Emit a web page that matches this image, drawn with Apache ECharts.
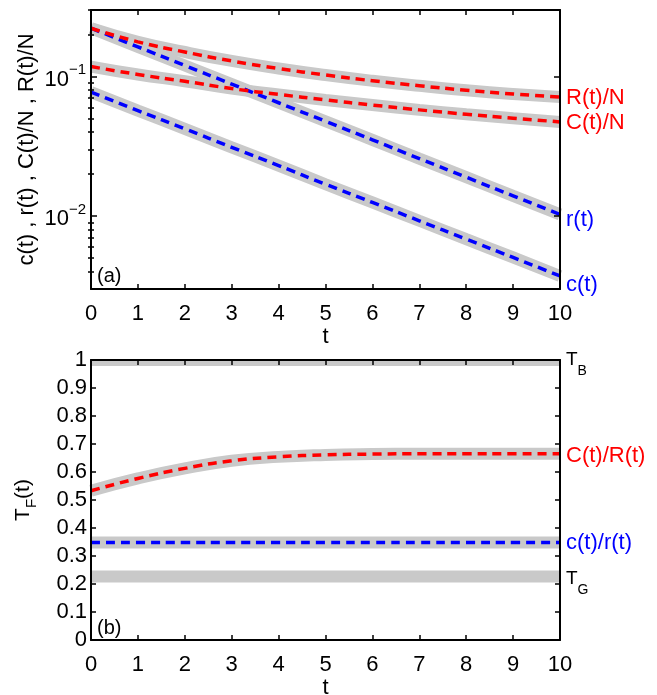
<!DOCTYPE html>
<html>
<head>
<meta charset="utf-8">
<script src="https://cdn.jsdelivr.net/npm/echarts@6/dist/echarts.min.js"></script>
<style>html,body{margin:0;padding:0;background:#fff}#c{width:657px;height:695px}</style>
</head>
<body>
<div id="c"></div>
<script>
// ---- data ----
const tVals = [0, 1, 2, 3, 4, 5, 6, 7, 8, 9, 10];
const R_N = [0.222, 0.1774, 0.150, 0.1294, 0.1143, 0.1026, 0.0933, 0.0859, 0.0798, 0.0750, 0.0713];
const C_N = [0.118, 0.1035, 0.0925, 0.0820, 0.0745, 0.0680, 0.0625, 0.0577, 0.0537, 0.0503, 0.0473];
const r_t = [0.222, 0.1633, 0.120, 0.0883, 0.0649, 0.0478, 0.0352, 0.0258, 0.0190, 0.01396, 0.01028];
const c_t = [0.0773, 0.0570, 0.0422, 0.0311, 0.0230, 0.0169, 0.01253, 0.00925, 0.00683, 0.00505, 0.00372];
const C_R = [0.533, 0.577, 0.613, 0.640, 0.654, 0.661, 0.664, 0.665, 0.665, 0.665, 0.665];
const c_r = [0.348, 0.348, 0.348, 0.348, 0.348, 0.348, 0.348, 0.348, 0.348, 0.348, 0.348];
const T_B = [1, 1, 1, 1, 1, 1, 1, 1, 1, 1, 1];
const T_G = [0.227, 0.227, 0.227, 0.227, 0.227, 0.227, 0.227, 0.227, 0.227, 0.227, 0.227];
const logMajor = [0.01, 0.1];
const logMinor = [0.004, 0.005, 0.006, 0.007, 0.008, 0.009, 0.02, 0.03, 0.04, 0.05, 0.06, 0.07, 0.08, 0.09, 0.2, 0.3];

const FONT = 'Liberation Sans, Arial, Helvetica, sans-serif';
const GRAY = '#c9c9c9', RED = '#ff0000', BLUE = '#0000ff';
const pairs = arr => tVals.map((x, i) => [x, arr[i]]);

const axLine = { show: true, onZero: false, lineStyle: { color: '#000', width: 2 } };
const tickIn = (len) => ({ show: true, inside: true, length: len, lineStyle: { color: '#000', width: 1.5 } });
const AXZ = 10;

function xAxes(gridIndex, nameGap) {
  return [
    { type: 'value', gridIndex, position: 'bottom', min: 0, max: 10, interval: 1, z: AXZ,
      axisLine: axLine, axisTick: tickIn(5), splitLine: { show: false },
      axisLabel: { color: '#000', fontSize: 22, fontFamily: FONT, margin: 14 },
      name: 't', nameLocation: 'middle', nameGap,
      nameTextStyle: { color: '#000', fontSize: 22, fontFamily: FONT } },
    { type: 'value', gridIndex, position: 'top', min: 0, max: 10, interval: 1, z: AXZ,
      axisLine: axLine, axisTick: tickIn(5), axisLabel: { show: false }, splitLine: { show: false } }
  ];
}

function band(name, arr, xi, yi, extra) {
  return Object.assign({ name: name + ' band', type: 'line', xAxisIndex: xi, yAxisIndex: yi,
    data: pairs(arr), symbol: 'none', smooth: true, z: 2,
    lineStyle: { color: GRAY, width: 12, cap: 'butt' }, silent: true }, extra || {});
}
function dashed(name, arr, color, xi, yi, label, dy) {
  return { name, type: 'line', xAxisIndex: xi, yAxisIndex: yi, data: pairs(arr),
    symbol: 'none', smooth: true, z: 3,
    lineStyle: { color, width: 3.5, type: [9, 6] },
    endLabel: { show: true, formatter: label, color, fontSize: 22, fontFamily: FONT,
      distance: 6, offset: [0, dy || 0] } };
}
const subRich = {
  t: { fontSize: 19, fontFamily: FONT, color: '#000', lineHeight: 20, verticalAlign: 'top' },
  s: { fontSize: 14, fontFamily: FONT, color: '#000', lineHeight: 16, verticalAlign: 'top', padding: [14, 0, 0, 0] }
};

const chart = echarts.init(document.getElementById('c'), null, { renderer: 'canvas' });
chart.setOption({
  animation: false,
  backgroundColor: '#fff',
  grid: [
    { left: 91, width: 469, top: 10, height: 279, containLabel: false, outerBoundsMode: 'none' },
    { left: 91, width: 469, top: 360, height: 280, containLabel: false, outerBoundsMode: 'none' }
  ],
  xAxis: [...xAxes(0, 32), ...xAxes(1, 35)],
  yAxis: [
    { type: 'log', gridIndex: 0, position: 'left', min: 0.003, max: 0.3, z: AXZ,
      axisLine: axLine, splitLine: { show: false },
      axisTick: Object.assign(tickIn(6), { customValues: logMajor }),
      axisLabel: { customValues: logMajor, color: '#000', margin: 5, fontFamily: FONT,
        formatter: v => '{b|10}{s|' + String(Math.round(Math.log10(v))).replace('-', '\u2212') + '}',
        rich: { b: { fontSize: 22, fontFamily: FONT, lineHeight: 28, verticalAlign: 'bottom', color: '#000' },
                s: { fontSize: 15, fontFamily: FONT, lineHeight: 16, verticalAlign: 'top', color: '#000' } } },
      name: 'c(t) , r(t) , C(t)/N , R(t)/N', nameLocation: 'middle', nameRotate: 90, nameGap: 53,
      nameMoveOverlap: false,
      nameTextStyle: { color: '#000', fontSize: 22, fontFamily: FONT } },
    { type: 'log', gridIndex: 0, position: 'left', min: 0.003, max: 0.3, z: AXZ,
      axisLine: { show: false }, splitLine: { show: false }, axisLabel: { show: false },
      axisTick: Object.assign(tickIn(3), { customValues: logMinor }) },
    { type: 'log', gridIndex: 0, position: 'right', min: 0.003, max: 0.3, z: AXZ,
      axisLine: axLine, splitLine: { show: false }, axisLabel: { show: false },
      axisTick: Object.assign(tickIn(6), { customValues: logMajor }) },
    { type: 'log', gridIndex: 0, position: 'right', min: 0.003, max: 0.3, z: AXZ,
      axisLine: { show: false }, splitLine: { show: false }, axisLabel: { show: false },
      axisTick: Object.assign(tickIn(3), { customValues: logMinor }) },
    { type: 'value', gridIndex: 1, position: 'left', min: 0, max: 1, interval: 0.1, z: AXZ,
      axisLine: axLine, axisTick: tickIn(5), splitLine: { show: false },
      axisLabel: { color: '#000', fontSize: 22, fontFamily: FONT, margin: 4 },
      name: '{m|T}{sub|F}{m|(t)}', nameLocation: 'middle', nameRotate: 90, nameGap: 52,
      nameTextStyle: { color: '#000', fontFamily: FONT,
        rich: { m: { fontSize: 21, fontFamily: FONT, color: '#000', lineHeight: 26, verticalAlign: 'top' },
                sub: { fontSize: 15, fontFamily: FONT, color: '#000', lineHeight: 16, verticalAlign: 'bottom' } } } },
    { type: 'value', gridIndex: 1, position: 'right', min: 0, max: 1, interval: 0.1, z: AXZ,
      axisLine: axLine, axisTick: tickIn(5), splitLine: { show: false }, axisLabel: { show: false } }
  ],
  graphic: [
    // white mask above panel (b) so the T_B band is cut at the frame like the original
    { type: 'rect', shape: { x: 85, y: 346, width: 480, height: 13 }, style: { fill: '#fff' }, z: 5, silent: true },
    { type: 'text', left: 97, top: 266, style: { text: '(a)', fontSize: 20, fontFamily: FONT, fill: '#000' }, z: 10 },
    { type: 'text', left: 97, top: 618, style: { text: '(b)', fontSize: 20, fontFamily: FONT, fill: '#000' }, z: 10 }
  ],
  series: [
    band('R(t)/N', R_N, 0, 0), band('C(t)/N', C_N, 0, 0), band('r(t)', r_t, 0, 0), band('c(t)', c_t, 0, 0),
    dashed('r(t)', r_t, BLUE, 0, 0, 'r(t)', 6),
    dashed('c(t)', c_t, BLUE, 0, 0, 'c(t)', 9),
    dashed('R(t)/N', R_N, RED, 0, 0, 'R(t)/N', 1),
    dashed('C(t)/N', C_N, RED, 0, 0, 'C(t)/N', 1),

    band('T_B', T_B, 2, 4, { endLabel: { show: true, formatter: '{t|T}{s|B}', distance: 6, offset: [0, 0], rich: subRich } }),
    band('C(t)/R(t)', C_R, 2, 4), band('c(t)/r(t)', c_r, 2, 4),
    band('T_G', T_G, 2, 4, { endLabel: { show: true, formatter: '{t|T}{s|G}', distance: 6, offset: [0, 3], rich: subRich } }),
    dashed('C(t)/R(t)', C_R, RED, 2, 4, 'C(t)/R(t)', 2),
    dashed('c(t)/r(t)', c_r, BLUE, 2, 4, 'c(t)/r(t)', 0)
  ]
});
</script>
</body>
</html>
